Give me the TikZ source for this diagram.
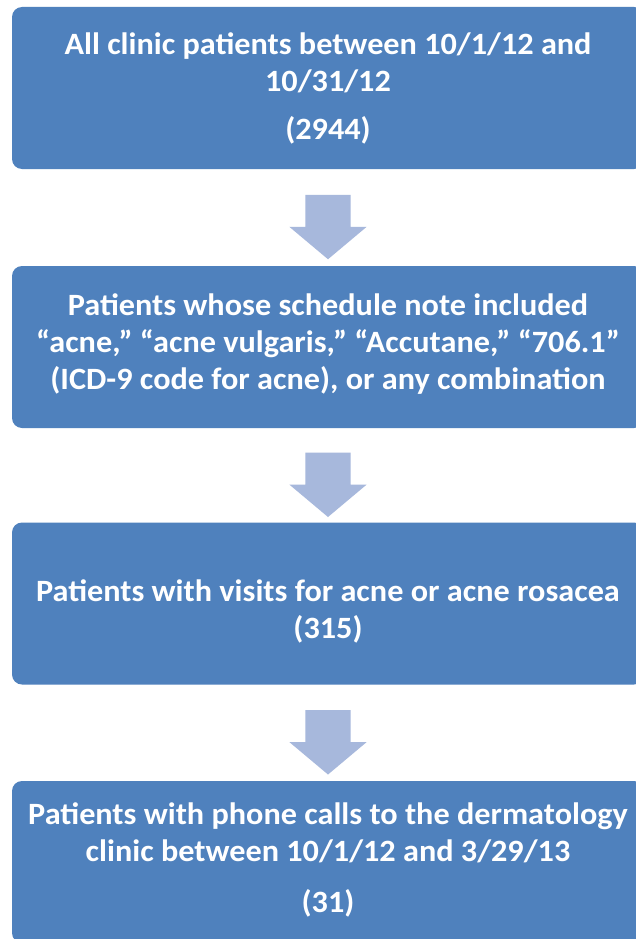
\documentclass[tikz,border=0pt]{standalone}
\usepackage{fontspec}
\setmainfont{Carlito}[FakeStretch=1.04]
\usetikzlibrary{shapes.arrows,calc}
\definecolor{boxblue}{HTML}{4F81BD}
\definecolor{arrowblue}{HTML}{A7B8DC}
\tikzset{
  stagebox/.style={fill=boxblue, draw=none, rounded corners=10pt, minimum width=632pt, minimum height=162pt, inner sep=0pt},
  stagetext/.style={text=white, align=center, inner sep=0pt, font=\fontsize{31}{37}\selectfont\bfseries},
  downarrow/.style={single arrow, fill=arrowblue, draw=none, shape border rotate=270, inner sep=22.5pt, minimum width=77pt, minimum height=64pt, single arrow head extend=16pt, single arrow tip angle=100, single arrow head indent=0pt}
}
\begin{document}
\begin{tikzpicture}[x=1pt,y=-1pt]
\useasboundingbox (0,0) rectangle (636,939);
\clip (0,0) rectangle (636,939);
\fill[white] (0,0) rectangle (636,939);
\node[stagebox] (b1) at (328,88) {};
\node[stagebox] (b2) at (328,347) {};
\node[stagebox] (b3) at (328,603.5) {};
\node[stagebox] (b4) at (328,862) {};
\node[stagetext] (t1) at (328,88) {All clinic patients between 10/1/12 and\\10/31/12\\[11pt](2944)};
\node[stagetext] (t2) at (328,344) {Patients whose schedule note included\\“acne,” “acne vulgaris,” “Accutane,” “706.1”\\(ICD-9 code for acne), or any combination};
\node[stagetext] (t3) at (328,611) {Patients with visits for acne or acne rosacea\\(315)};
\node[stagetext] (t4) at (328,860) {Patients with phone calls to the dermatology\\clinic between 10/1/12 and 3/29/13\\[14pt](31)};
\node[downarrow] (a1) at ($(b1.south)!0.5!(b2.north)$) {};
\node[downarrow] (a2) at ($(b2.south)!0.5!(b3.north)$) {};
\node[downarrow] (a3) at ($(b3.south)!0.5!(b4.north)$) {};
\end{tikzpicture}
\end{document}
